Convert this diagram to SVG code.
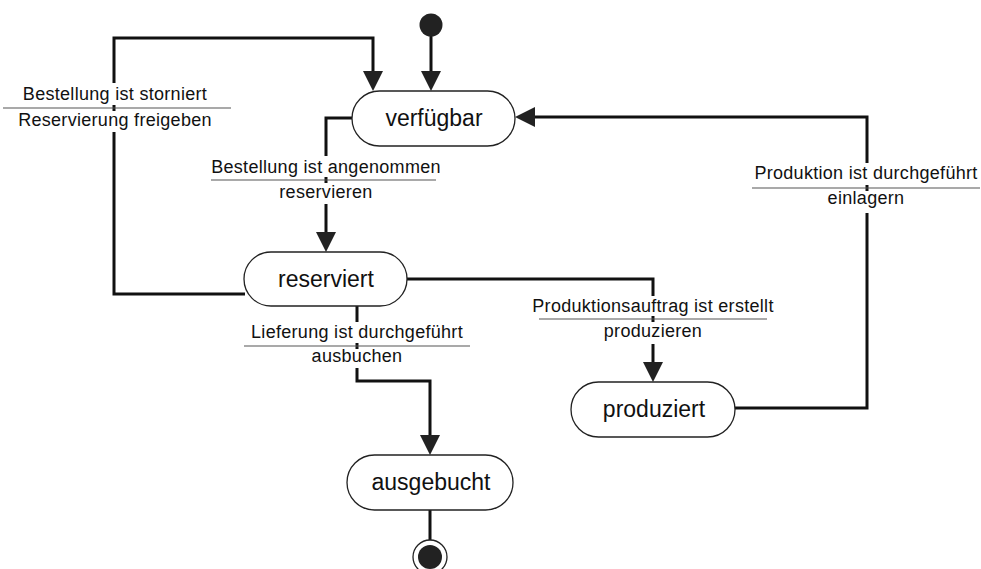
<svg xmlns="http://www.w3.org/2000/svg" width="981" height="569" viewBox="0 0 981 569">
<style>
.state{fill:#fff;stroke:#222;stroke-width:1.3}
.stxt{font-family:"Liberation Sans",Arial,sans-serif;font-size:23px;fill:#111;text-anchor:middle}
.ltxt{font-family:"Liberation Sans",Arial,sans-serif;font-size:18px;letter-spacing:0.3px;fill:#111;text-anchor:middle}
.rule{stroke:#555;stroke-width:1.2;fill:none}
.conn{stroke:#111;stroke-width:3;fill:none}
.tick{stroke:#111;stroke-width:3}
</style>
<defs>
<marker id="arr" viewBox="0 -10 20 20" refX="0" refY="0" markerWidth="20" markerHeight="20" markerUnits="userSpaceOnUse" orient="auto">
<path d="M0,-10 L20,0 L0,10 Z" fill="#222"/>
</marker>
</defs>
<rect width="981" height="569" fill="#fff"/>

<g id="connectors">
<path class="conn" d="M431,36 V71" marker-end="url(#arr)"/>
<path class="conn" d="M245,294 H114 V132"/>
<path class="conn" d="M114,83 V38 H373 V71" marker-end="url(#arr)"/>
<line class="tick" x1="114" y1="105" x2="114" y2="111"/>
<path class="conn" d="M352,118 H326 V156"/>
<path class="conn" d="M326,204 V232" marker-end="url(#arr)"/>
<line class="tick" x1="326" y1="177" x2="326" y2="183"/>
<path class="conn" d="M357,306 V322"/>
<path class="conn" d="M357,368 V381 H430 V435" marker-end="url(#arr)"/>
<line class="tick" x1="357" y1="343" x2="357" y2="349"/>
<path class="conn" d="M407,279 H653 V296"/>
<path class="conn" d="M653,344 V362" marker-end="url(#arr)"/>
<line class="tick" x1="653" y1="316" x2="653" y2="322"/>
<path class="conn" d="M735,408 H867 V213"/>
<path class="conn" d="M867,163 V117 H535" marker-end="url(#arr)"/>
<line class="tick" x1="867" y1="185" x2="867" y2="191"/>
<path class="conn" d="M430,510 V540"/>
</g>

<g id="labels">
<text class="ltxt" x="115" y="100">Bestellung ist storniert</text>
<line class="rule" x1="3" y1="108" x2="231" y2="108"/>
<text class="ltxt" x="115" y="126">Reservierung freigeben</text>
<text class="ltxt" x="326" y="173">Bestellung ist angenommen</text>
<line class="rule" x1="211" y1="180" x2="436" y2="180"/>
<text class="ltxt" x="326" y="198">reservieren</text>
<text class="ltxt" x="357" y="338">Lieferung ist durchgeführt</text>
<line class="rule" x1="244" y1="346" x2="470" y2="346"/>
<text class="ltxt" x="357" y="362">ausbuchen</text>
<text class="ltxt" x="653" y="312">Produktionsauftrag ist erstellt</text>
<line class="rule" x1="539" y1="319" x2="767" y2="319"/>
<text class="ltxt" x="653" y="337">produzieren</text>
<text class="ltxt" x="866" y="179">Produktion ist durchgeführt</text>
<line class="rule" x1="752" y1="188" x2="980" y2="188"/>
<text class="ltxt" x="866" y="204">einlagern</text>
</g>

<g id="start">
<circle cx="431" cy="25" r="11.5" fill="#222"/>
</g>
<g id="verfuegbar">
<rect class="state" x="352" y="91" width="163" height="55" rx="27.5"/>
<text class="stxt" x="434" y="126">verfügbar</text>
</g>
<g id="reserviert">
<rect class="state" x="244" y="252" width="163" height="54" rx="27"/>
<text class="stxt" x="326" y="287">reserviert</text>
</g>
<g id="produziert">
<rect class="state" x="571" y="382" width="164" height="55" rx="27.5"/>
<text class="stxt" x="654" y="417">produziert</text>
</g>
<g id="ausgebucht">
<rect class="state" x="347" y="455" width="166" height="55" rx="27.5"/>
<text class="stxt" x="431" y="490">ausgebucht</text>
</g>
<g id="end">
<circle cx="430" cy="557" r="17" fill="#fff" stroke="#222" stroke-width="1.3"/>
<circle cx="430" cy="557" r="12" fill="#222"/>
</g>
</svg>
